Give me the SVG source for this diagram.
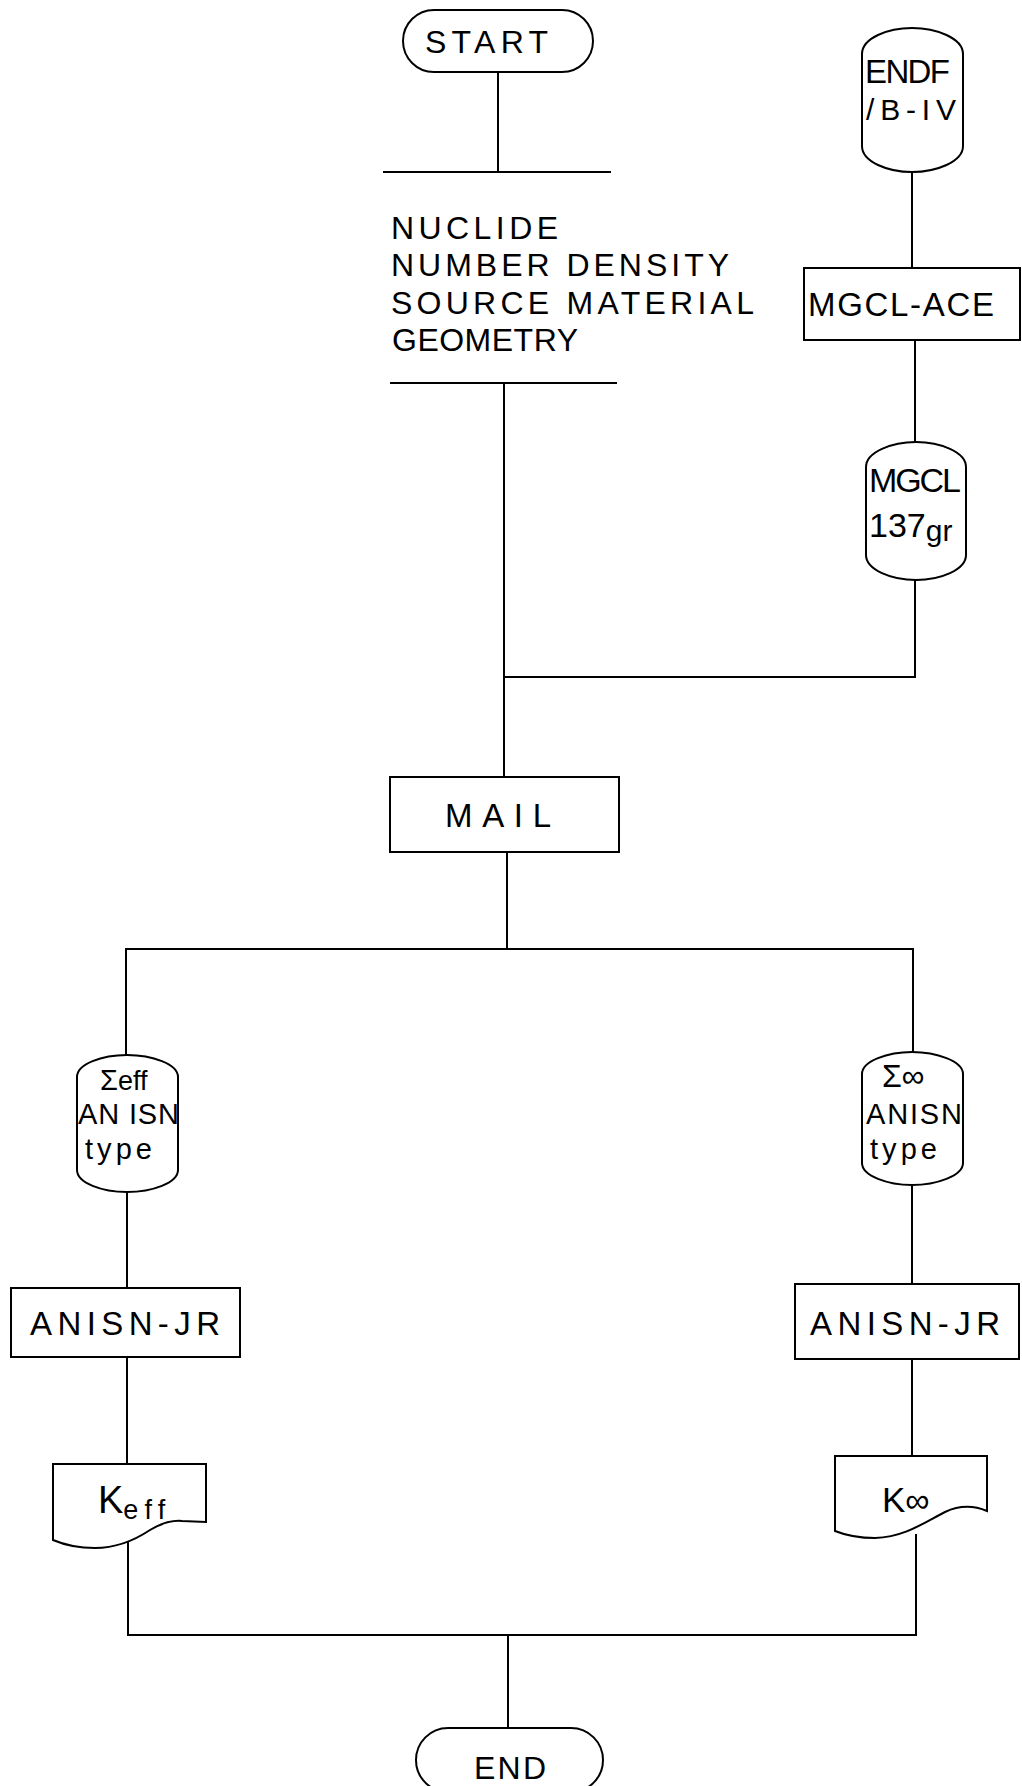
<svg xmlns="http://www.w3.org/2000/svg" width="1022" height="1786" viewBox="0 0 1022 1786">
<style>
.s{fill:none;stroke:#000;stroke-width:2;stroke-linecap:square}
.n{fill:#fff;stroke:#000;stroke-width:2}
.t{font-family:"Liberation Sans",Arial,sans-serif;fill:#000}
</style>
<rect width="1022" height="1786" fill="#fff"/>
<g id="connectors" class="s">
<path d="M498,72 V172"/>
<path d="M384,172 H610"/>
<path d="M391,383 H616"/>
<path d="M504,383 V777"/>
<path d="M912,172 V268"/>
<path d="M915,340 V442"/>
<path d="M915,580 V677 H504"/>
<path d="M507,852 V949"/>
<path d="M126,949 H913"/>
<path d="M126,949 V1055"/>
<path d="M913,949 V1052"/>
<path d="M127,1192 V1288"/>
<path d="M127,1357 V1464"/>
<path d="M128,1541 V1635"/>
<path d="M912,1185 V1284"/>
<path d="M912,1359 V1456"/>
<path d="M916,1535 V1635"/>
<path d="M128,1635 H916"/>
<path d="M508,1635 V1728"/>
</g>
<g id="start">
<rect class="n" x="403" y="10" width="190" height="62" rx="31"/>
<text class="t" x="425" y="53" font-size="32" textLength="123" lengthAdjust="spacing">START</text>
</g>
<g id="input">
<text class="t" font-size="32" x="391" y="239" textLength="167" lengthAdjust="spacing">NUCLIDE</text>
<text class="t" font-size="32" x="391" y="276" textLength="338" lengthAdjust="spacing">NUMBER DENSITY</text>
<text class="t" font-size="32" x="391" y="314" textLength="363" lengthAdjust="spacing">SOURCE MATERIAL</text>
<text class="t" font-size="32" x="392" y="351" textLength="186" lengthAdjust="spacing">GEOMETRY</text>
</g>
<g id="endf">
<path class="n" d="M862,54 C862,38 888,28 912,28 C936,28 963,38 963,54 V146 C963,162 936,172 912,172 C888,172 862,162 862,146 Z"/>
<text class="t" x="865" y="83" font-size="33" textLength="85" lengthAdjust="spacing">ENDF</text>
<text class="t" x="866" y="120" font-size="30" textLength="90" lengthAdjust="spacing">/B-IV</text>
</g>
<g id="mgcl-ace">
<rect class="n" x="804" y="268" width="216" height="72"/>
<text class="t" x="808" y="316" font-size="33" textLength="186" lengthAdjust="spacing">MGCL-ACE</text>
</g>
<g id="mgcl137">
<path class="n" d="M866,467 C866,452 892,442 916,442 C940,442 966,452 966,467 V555 C966,570 940,580 916,580 C892,580 866,570 866,555 Z"/>
<text class="t" x="869" y="492" font-size="34" textLength="92" lengthAdjust="spacing">MGCL</text>
<text class="t" x="869" y="537" font-size="34">137<tspan font-size="30" dy="4">gr</tspan></text>
</g>
<g id="mail">
<rect class="n" x="390" y="777" width="229" height="75"/>
<text class="t" x="445" y="827" font-size="33" textLength="106" lengthAdjust="spacing">MAIL</text>
</g>
<g id="sigma-eff">
<path class="n" d="M77,1077 C77,1064 102,1055 127,1055 C152,1055 178,1064 178,1077 V1170 C178,1183 152,1192 127,1192 C102,1192 77,1183 77,1170 Z"/>
<text class="t" x="100" y="1090" font-size="29">Σ<tspan font-size="27">eff</tspan></text>
<text class="t" x="78" y="1124" font-size="29" textLength="101" lengthAdjust="spacing">AN ISN</text>
<text class="t" x="85" y="1159" font-size="29" textLength="67" lengthAdjust="spacing">type</text>
</g>
<g id="anisn-left">
<rect class="n" x="11" y="1288" width="229" height="69"/>
<text class="t" x="30" y="1335" font-size="33" textLength="190" lengthAdjust="spacing">ANISN-JR</text>
</g>
<g id="keff">
<path class="n" d="M53,1464 H206 V1522 L182,1521 C170,1520 160,1524 150,1530 C135,1540 118,1548 95,1548 C75,1548 60,1543 53,1540 Z"/>
<text class="t" x="98" y="1513" font-size="38">K<tspan font-size="27" dy="6" textLength="42" lengthAdjust="spacing">eff</tspan></text>
</g>
<g id="sigma-inf">
<path class="n" d="M862,1074 C862,1061 888,1052 912,1052 C936,1052 963,1061 963,1074 V1163 C963,1176 936,1185 912,1185 C888,1185 862,1176 862,1163 Z"/>
<text class="t" x="882" y="1087" font-size="32">Σ∞</text>
<text class="t" x="866" y="1124" font-size="29" textLength="96" lengthAdjust="spacing">ANISN</text>
<text class="t" x="870" y="1159" font-size="29" textLength="67" lengthAdjust="spacing">type</text>
</g>
<g id="anisn-right">
<rect class="n" x="795" y="1284" width="224" height="75"/>
<text class="t" x="810" y="1335" font-size="33" textLength="190" lengthAdjust="spacing">ANISN-JR</text>
</g>
<g id="kinf">
<path class="n" d="M835,1456 H987 V1511 C975,1506 960,1505 945,1512 C925,1522 905,1537 875,1538 C858,1538 845,1535 835,1531 Z"/>
<text class="t" x="882" y="1512" font-size="35">K<tspan font-size="34">∞</tspan></text>
</g>
<g id="end">
<rect class="n" x="416" y="1728" width="187" height="64" rx="32"/>
<text class="t" x="474" y="1779" font-size="32" textLength="72" lengthAdjust="spacing">END</text>
</g>
</svg>
